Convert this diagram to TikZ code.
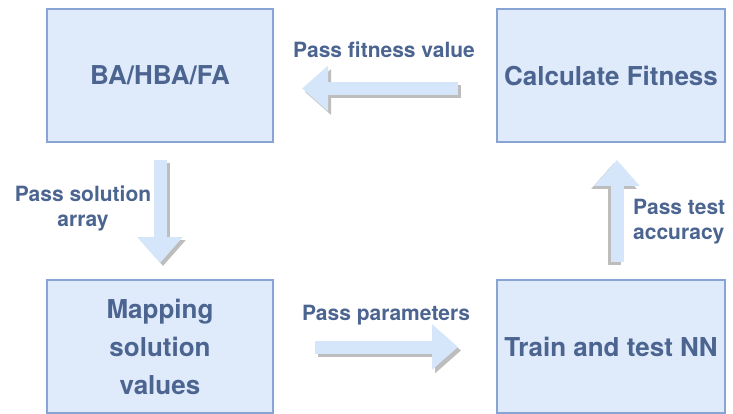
\documentclass[tikz,border=0pt]{standalone}
\usepackage{fontspec}
\setmainfont{TeX Gyre Heros}
\usetikzlibrary{arrows.meta}
\definecolor{txtc}{HTML}{4B6490}
\definecolor{boxfill}{HTML}{DFEAFB}
\definecolor{boxline}{HTML}{87A4D2}
\definecolor{arrfill}{HTML}{D6E6FA}
\definecolor{shadowc}{HTML}{BDBDBD}
\tikzset{
  stepbox/.style={draw=boxline, line width=2pt, fill=boxfill, minimum width=226pt, minimum height=133pt,
    inner sep=0pt, text=txtc, font=\bfseries\fontsize{26}{38}\selectfont, align=center},
  lbl/.style={text=txtc, font=\bfseries\fontsize{21}{25}\selectfont, inner sep=0pt},
  blockarrow/.style={line width=13pt, line cap=butt, draw=arrfill,
    -{Triangle[width=44pt 0, length=26pt 0, fill=arrfill]}},
  blockshadow/.style={line width=13pt, line cap=butt, draw=shadowc,
    -{Triangle[width=44pt 0, length=26pt 0, fill=shadowc]}}
}
\begin{document}
\begin{tikzpicture}[x=1pt,y=-1pt]
\useasboundingbox (0,0) rectangle (733,414);
% boxes
\node[stepbox] (ba) at (160,75.5) {BA/HBA/FA};
\node[stepbox, minimum width=228pt] (cf) at (611,75.5) {Calculate Fitness};
\node[stepbox] (map) at (160,346.5) {Mapping\\solution\\values};
\node[stepbox, minimum width=228pt] (nn) at (611,346.5) {Train and test NN};
% arrow end points
\coordinate (f1) at (458,88.5);
\coordinate (f2) at (302,88.5);
\coordinate (s1) at (160,160);
\coordinate (s2) at (160,263);
\coordinate (p1) at (315,347);
\coordinate (p2) at (458,347);
\coordinate (t1) at (617,262);
\coordinate (t2) at (617,160);
% shadows
\draw[blockshadow, transform canvas={shift={(3pt,-3.5pt)}}] (f1) -- (f2);
\draw[blockshadow, transform canvas={shift={(3pt,-3pt)}}] (s1) -- (s2);
\draw[blockshadow, transform canvas={shift={(3pt,-3.5pt)}}] (p1) -- (p2);
\draw[blockshadow, transform canvas={shift={(-3pt,-3pt)}}] (t1) -- (t2);
% arrows
\draw[blockarrow] (f1) -- (f2);
\draw[blockarrow] (s1) -- (s2);
\draw[blockarrow] (p1) -- (p2);
\draw[blockarrow] (t1) -- (t2);
% labels
\node[lbl] (lf) at (384,50) {Pass fitness value};
\node[lbl, align=center] (ls) at (83,208) {Pass solution\\array};
\node[lbl] (lp) at (386,315) {Pass parameters};
\node[lbl, align=left, anchor=west] (lt) at (633,222) {Pass test\\accuracy};
\end{tikzpicture}
\end{document}
